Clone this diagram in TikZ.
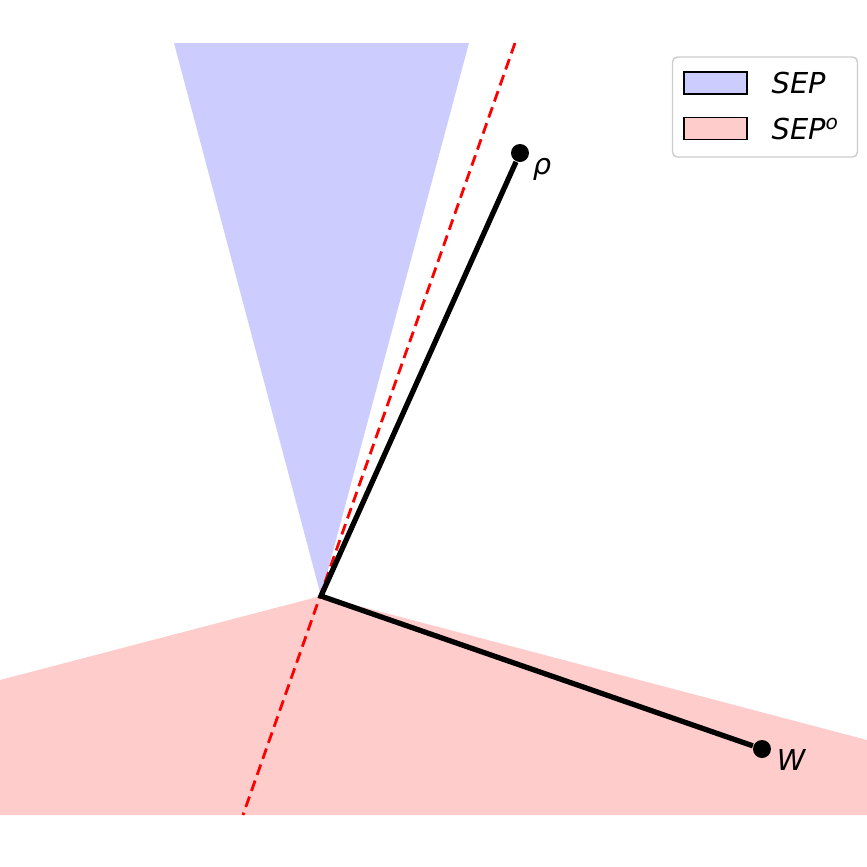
\documentclass[tikz,border=0pt]{standalone}
\usepackage{fontspec}
\setmainfont{DejaVu Sans}
\usepackage{tikz}

\begin{document}
\begin{tikzpicture}[x=0.1mm,y=-0.1mm,
  dot/.style={circle,fill=black,inner sep=0pt,minimum size=1.8mm},
  lab/.style={font=\fontsize{8.2}{10}\selectfont\itshape,inner sep=0pt},
  patch/.style={draw=black,line width=0.4pt,minimum width=6.3mm,minimum height=2.2mm,inner sep=0pt}]
  \useasboundingbox (0,0) rectangle (867,867);

  % cones
  \fill[blue!20] (174,43) -- (469,43) -- (321,596) -- cycle;
  \fill[red!20] (0,680) -- (321,596) -- (867,740) -- (867,815) -- (0,815) -- cycle;

  \coordinate (o) at (321,596);
  \coordinate (dtop) at (515,43);
  \coordinate (dbot) at (243,815);
  \node[dot] (rho) at (520,153) {};
  \node[dot] (w) at (762,749) {};
  \node[lab] (rholab) at (542,169) {ρ};
  \node[lab] (wlab) at (791,760) {W};

  \draw[red,line width=0.8pt,dash pattern=on 1.1mm off 0.6mm] (dtop) -- (dbot);
  \draw[line width=1.5pt] (rho) -- (o) -- (w);

  % legend
  \node[draw=black!20,fill=white,rounded corners=0.5mm,line width=0.4pt,
    minimum width=18.5mm,minimum height=10mm] (leg) at (765,107) {};
  \node[patch,fill=blue!20] (p1) at (715.5,83) {};
  \node[patch,fill=red!20] (p2) at (715.5,128.5) {};
  \node[lab,anchor=base west] (l1) at (771,93) {SEP};
  \node[lab,anchor=base west] (l2) at (771,139) {SEP\textsuperscript{o}};
\end{tikzpicture}
\end{document}
